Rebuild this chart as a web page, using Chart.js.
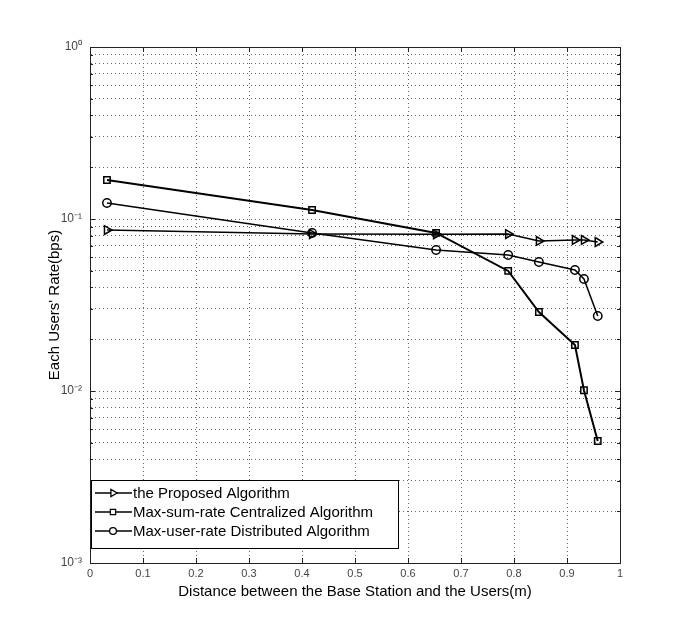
<!DOCTYPE html>
<html>
<head>
<meta charset="utf-8">
<script src="https://cdn.jsdelivr.net/npm/chart.js@4.4.1/dist/chart.umd.min.js"></script>
<style>
html,body{margin:0;padding:0;background:#fff;}
#wrap{width:685px;height:634px;position:relative;}
</style>
</head>
<body>
<div id="wrap"><canvas id="c" width="685" height="634"></canvas></div>
<script>
// ---- data ----
const distances = [0.032, 0.419, 0.653, 0.789, 0.847, 0.915, 0.932, 0.958];
const proposedRate = [0.0863, 0.0818, 0.0815, 0.0818, 0.0745, 0.0755, 0.0755, 0.0735];
const maxSumRate   = [0.1686, 0.1128, 0.0830, 0.0499, 0.0288, 0.0185, 0.0101, 0.00512];
const maxUserRate  = [0.124, 0.083, 0.066, 0.0618, 0.0562, 0.0505, 0.0448, 0.0273];
const seriesNames = ['the Proposed Algorithm', 'Max-sum-rate Centralized Algorithm', 'Max-user-rate Distributed Algorithm'];
const xTickValues = [0, 0.1, 0.2, 0.3, 0.4, 0.5, 0.6, 0.7, 0.8, 0.9, 1];
const yDecades = [-3, -2, -1, 0];
const xTitle = 'Distance between the Base Station and the Users(m)';
const yTitle = "Each Users' Rate(bps)";

const sup = {'-':'\u207B','0':'\u2070','1':'\u00B9','2':'\u00B2','3':'\u00B3'};
function pow10Label(e){ return '10' + String(e).split('').map(c=>sup[c]).join(''); }

function pts(ys){ return distances.map((x,i)=>({x:x, y:ys[i]})); }

const styles = [
  {pointStyle:'triangle', rotation:90, radius:5, width:1.6},
  {pointStyle:'rect', rotation:0, radius:4.5, width:2},
  {pointStyle:'circle', rotation:0, radius:4.2, width:1.5}
];

const datasets = [proposedRate, maxSumRate, maxUserRate].map((ys, i) => ({
  label: seriesNames[i],
  data: pts(ys),
  borderColor: '#000',
  backgroundColor: 'rgba(0,0,0,0)',
  borderWidth: styles[i].width,
  pointStyle: styles[i].pointStyle,
  pointRotation: styles[i].rotation,
  pointRadius: styles[i].radius,
  pointBorderWidth: 1.5,
  pointBorderColor: '#000',
  pointBackgroundColor: 'rgba(0,0,0,0)',
  tension: 0
}));

const framePlugin = {
  id: 'frame',
  afterDatasetsDraw(chart) {
    const ctx = chart.ctx;
    const a = chart.chartArea;
    const xs = chart.scales.x, ys = chart.scales.y;
    ctx.save();
    ctx.setLineDash([]);
    ctx.strokeStyle = '#222';
    ctx.lineWidth = 1;
    ctx.beginPath();
    ctx.rect(Math.round(a.left)+0.5, Math.round(a.top)+0.5, Math.round(a.right-a.left), Math.round(a.bottom-a.top));
    ctx.stroke();
    // inward ticks
    ctx.beginPath();
    xTickValues.forEach(v => {
      const px = Math.round(xs.getPixelForValue(v)) + 0.5;
      ctx.moveTo(px, a.bottom); ctx.lineTo(px, a.bottom - 5);
      ctx.moveTo(px, a.top); ctx.lineTo(px, a.top + 5);
    });
    yDecades.forEach(e => {
      for (let m = 1; m <= 9; m++) {
        const v = m * Math.pow(10, e);
        if (e === 0 && m > 1) break;
        const py = Math.round(ys.getPixelForValue(v)) + 0.5;
        const len = m === 1 ? 5 : 3;
        ctx.moveTo(a.left, py); ctx.lineTo(a.left + len, py);
        ctx.moveTo(a.right, py); ctx.lineTo(a.right - len, py);
      }
    });
    ctx.stroke();

    // legend box
    const bx = Math.round(a.left) + 1.5, by = 480.5, bw = 307, bh = 68;
    ctx.fillStyle = '#fff';
    ctx.fillRect(bx, by, bw, bh);
    ctx.strokeStyle = '#000';
    ctx.lineWidth = 1;
    ctx.strokeRect(bx, by, bw, bh);
    const rows = [493, 512, 531];
    ctx.font = '15px "Liberation Sans", Arial, sans-serif';
    ctx.textBaseline = 'middle';
    ctx.textAlign = 'left';
    rows.forEach((ry, i) => {
      ctx.strokeStyle = '#000';
      ctx.lineWidth = 1.6;
      ctx.beginPath();
      ctx.moveTo(95, ry); ctx.lineTo(132, ry);
      ctx.stroke();
      ctx.lineWidth = 1.3;
      ctx.fillStyle = '#fff';
      const st = styles[i];
      Chart.helpers.drawPoint(ctx, {pointStyle: st.pointStyle, rotation: st.rotation, radius: st.radius - 0.8, borderWidth: 1.3}, 113, ry);
      ctx.fillStyle = '#000';
      ctx.fillText(seriesNames[i], 133, ry + 1);
    });
    ctx.restore();
  }
};

const gridOpts = { color: '#666', lineWidth: 1, drawTicks: false };

new Chart(document.getElementById('c'), {
  type: 'line',
  data: { datasets },
  options: {
    responsive: false,
    animation: false,
    devicePixelRatio: 1,
    layout: { padding: { top: 47, right: 65, left: 0, bottom: 0 } },
    plugins: { legend: { display: false }, tooltip: { enabled: false } },
    scales: {
      x: {
        type: 'linear', min: 0, max: 1,
        afterFit(s) { s.height = 71; },
        afterBuildTicks(s) { s.ticks = xTickValues.map(v => ({value: v})); },
        ticks: {
          autoSkip: false, padding: 4, color: '#444', maxRotation: 0,
          font: { family: '"Liberation Sans", Arial, sans-serif', size: 11 },
          callback: v => (v === 0 ? '0' : v === 1 ? '1' : Number(v).toFixed(1))
        },
        grid: gridOpts,
        border: { display: true, color: '#222', width: 1, dash: [1, 3] },
        title: {
          display: true, text: xTitle, color: '#000',
          font: { family: '"Liberation Sans", Arial, sans-serif', size: 15 },
          padding: { top: 0, bottom: 33 }
        }
      },
      y: {
        type: 'logarithmic', min: 0.001, max: 1,
        afterFit(s) { s.width = 90; },
        afterBuildTicks(s) {
          const t = [];
          yDecades.forEach(e => {
            for (let m = 1; m <= 9; m++) {
              if (e === 0 && m > 1) break;
              t.push({ value: m * Math.pow(10, e) });
            }
          });
          s.ticks = t;
        },
        ticks: {
          autoSkip: false, padding: 8, color: '#444',
          font: { family: '"Liberation Sans", Arial, sans-serif', size: 12 },
          callback: v => {
            const e = Math.log10(v);
            return Math.abs(e - Math.round(e)) < 1e-9 ? pow10Label(Math.round(e)) : '';
          }
        },
        grid: gridOpts,
        border: { display: true, color: '#222', width: 1, dash: [1, 3] },
        title: {
          display: true, text: yTitle, color: '#000',
          font: { family: '"Liberation Sans", Arial, sans-serif', size: 15 },
          padding: { top: 46, bottom: 0 }
        }
      }
    }
  },
  plugins: [framePlugin]
});
</script>
</body>
</html>
